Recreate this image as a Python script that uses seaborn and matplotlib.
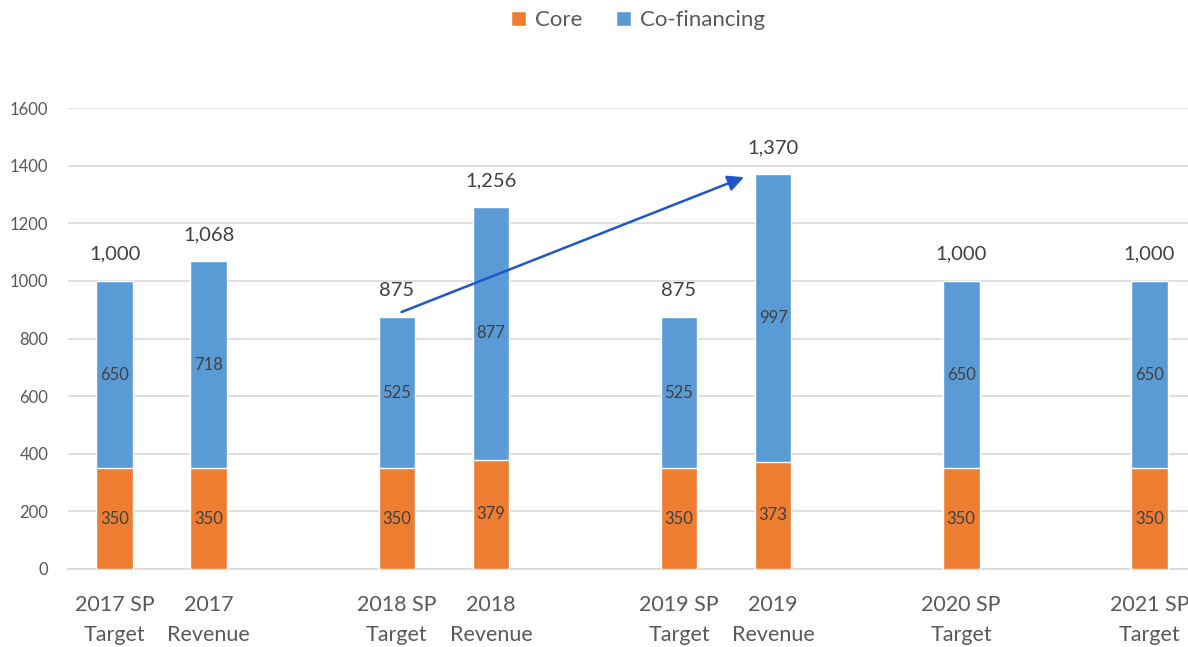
import matplotlib
matplotlib.use("Agg")
import matplotlib.pyplot as plt
import seaborn as sns
import pandas as pd
from matplotlib.patches import Patch

categories = ["2017 SP\nTarget", "2017\nRevenue", " ", "2018 SP\nTarget", "2018\nRevenue", "  ",
              "2019 SP\nTarget", "2019\nRevenue", "   ", "2020 SP\nTarget", "    ", "2021 SP\nTarget"]
bar_categories = ["2017 SP\nTarget", "2017\nRevenue", "2018 SP\nTarget", "2018\nRevenue",
                  "2019 SP\nTarget", "2019\nRevenue", "2020 SP\nTarget", "2021 SP\nTarget"]
core = [350, 350, 350, 379, 350, 373, 350, 350]
cofinancing = [650, 718, 525, 877, 525, 997, 650, 650]
totals = [1000, 1068, 875, 1256, 875, 1370, 1000, 1000]

ORANGE = "#ED7D31"
BLUE = "#5B9BD5"
TEXT = "#595959"

sns.set_theme(style="white")
plt.rcParams["font.family"] = ["Lato", "DejaVu Sans"]

df = pd.DataFrame({"cat": bar_categories, "core": core, "co": cofinancing, "total": totals})

fig = plt.figure(figsize=(11.88, 6.47), dpi=100)
ax = fig.add_axes([0.057, 0.1206, 0.95, 0.7124])

sns.barplot(data=df, x="cat", y="total", order=categories, color=BLUE, width=0.39,
            saturation=1, ax=ax, zorder=2)
sns.barplot(data=df, x="cat", y="core", order=categories, color=ORANGE, width=0.39,
            saturation=1, ax=ax, zorder=3)

ax.set_ylim(0, 1600)
ax.set_xlim(-0.5, 11.5)
ax.set_yticks(range(0, 1601, 200))
ax.yaxis.grid(True, color="#D9D9D9", linewidth=1.2, zorder=0)
ax.set_axisbelow(True)
for s in ["top", "right", "left"]:
    ax.spines[s].set_visible(False)
ax.spines["bottom"].set_color("#D9D9D9")
ax.spines["bottom"].set_linewidth(1.2)
ax.set_xlabel("")
ax.set_ylabel("")
ax.tick_params(axis="y", labelsize=12, colors=TEXT, length=0, pad=14)
ax.tick_params(axis="x", labelsize=15.5, colors=TEXT, length=0, pad=19)
for lbl in ax.get_xticklabels():
    lbl.set_linespacing(1.6)

pos = {c: i for i, c in enumerate(categories)}
for c, cr, co, tot in zip(bar_categories, core, cofinancing, totals):
    x = pos[c]
    ax.text(x, cr / 2, f"{cr}", ha="center", va="center", fontsize=12, color="#404040", zorder=5)
    ax.text(x, cr + co / 2, f"{co}", ha="center", va="center", fontsize=12, color="#404040", zorder=5)
    ax.annotate(f"{tot:,}", (x, tot), xytext=(0, 13), textcoords="offset points",
                ha="center", va="bottom", fontsize=14.5, color="#404040")

ax.annotate("", xy=(6.69, 1360), xytext=(3.05, 892),
            arrowprops=dict(arrowstyle="-|>", color="#1F56C9", lw=1.8, mutation_scale=24,
                            shrinkA=0, shrinkB=0), zorder=6)

handles = [Patch(facecolor=ORANGE, label="Core"), Patch(facecolor=BLUE, label="Co-financing")]
fig.legend(handles=handles, loc="center", bbox_to_anchor=(0.537, 0.969), ncol=2, frameon=False,
           fontsize=16, handlelength=0.7, handleheight=0.7, handletextpad=0.4, columnspacing=1.5,
           labelcolor=TEXT)

fig.savefig("out.png", dpi=100)
